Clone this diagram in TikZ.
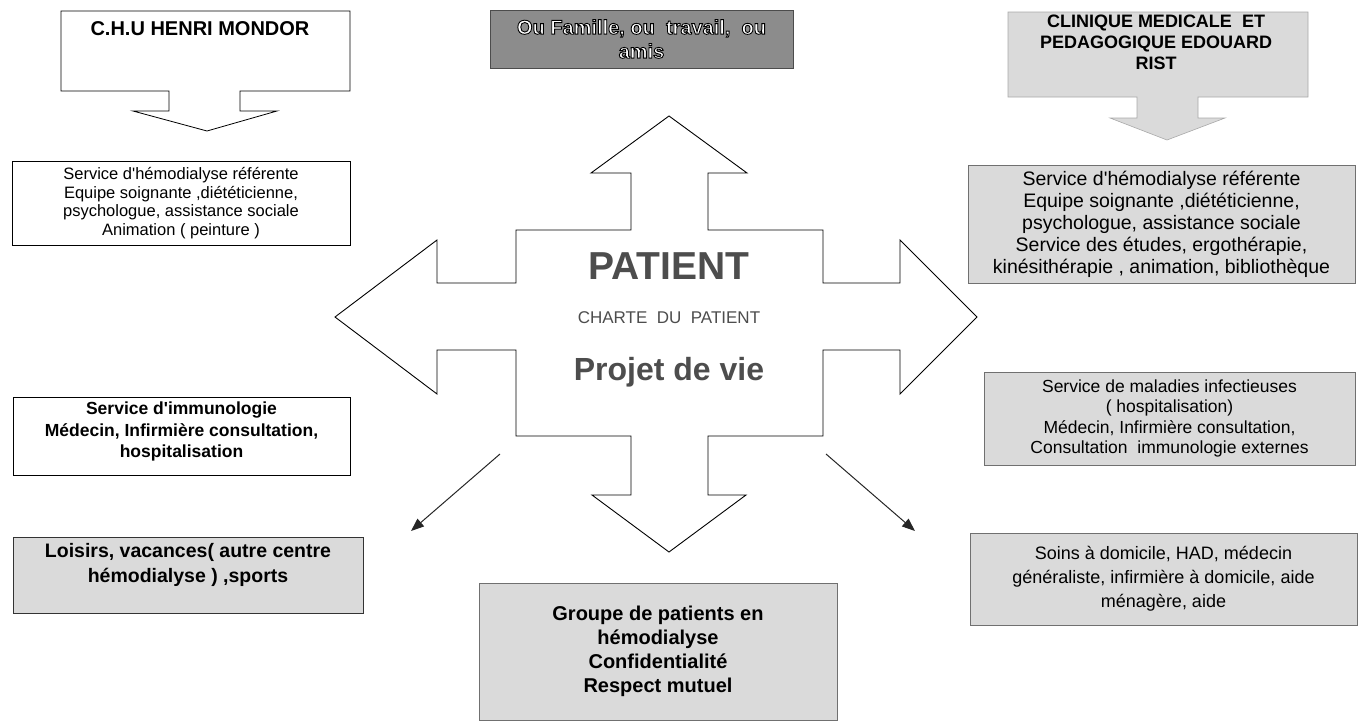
\documentclass[tikz,border=0pt]{standalone}
\usepackage{fontspec}
\setmainfont{Liberation Sans}
\usetikzlibrary{arrows.meta}
\definecolor{boxgray}{HTML}{DADADA}
\definecolor{darkbox}{HTML}{8C8C8C}
\definecolor{edgegray}{HTML}{707070}
\definecolor{centertext}{HTML}{4D4D4D}
\newcommand{\fsz}[2]{\fontsize{#1}{#2}\selectfont}
\newcommand{\outlined}[1]{{\color{white}\special{pdf:code 2 Tr 0.9 w 0 0 0 RG}#1\special{pdf:code 0 Tr}}}
\newcommand{\apo}{\textquotesingle}
\begin{document}
\begin{tikzpicture}[x=1pt,y=-1pt,
  wbox/.style={draw=black, line width=0.8pt, fill=white, align=center, inner sep=0pt},
  gbox/.style={draw=edgegray, line width=0.7pt, fill=boxgray, align=center, inner sep=0pt},
  callw/.style={draw=black, line width=0.8pt, fill=white},
  callg/.style={draw=edgegray!60, line width=0.6pt, fill=boxgray},
  crossshape/.style={draw=black, line width=0.9pt, fill=white},
  diag/.style={draw=black!85, line width=1pt, -{Triangle[length=13pt,width=10pt]}},
  ctext/.style={text=centertext, inner sep=0pt}]
\useasboundingbox (0,0) rectangle (1370,723);

% left callout
\draw[callw] (61,11) -- (350,11) -- (350,91) -- (240,91) -- (240,111) -- (277,111) -- (207,131) -- (133,111) -- (169,111) -- (169,91) -- (61,91) -- cycle;
\node[font={\fsz{20}{24}\bfseries}] (mondor) at (200,29) {C.H.U HENRI MONDOR};

% right callout
\draw[callg] (1008,12) -- (1308,12) -- (1308,97) -- (1198,97) -- (1198,118) -- (1225,118) -- (1167,140) -- (1110,118) -- (1137,118) -- (1137,97) -- (1008,97) -- cycle;
\node[align=center, inner sep=0pt, font={\fsz{18}{21}\bfseries}] (clinique) at (1156,42) {CLINIQUE MEDICALE~ ET\\PEDAGOGIQUE EDOUARD\\RIST};

% top dark box
\node[draw=black!70, line width=0.8pt, fill=darkbox, minimum width=303, minimum height=58, align=center, inner sep=0pt, font={\fsz{20}{24}\bfseries}] (famille) at (641.5,39)
  {\outlined{Ou Famille, ou~ travail,~ ou}\\\outlined{amis}};

% central cross
\draw[crossshape] (631,230) -- (631,173) -- (591,173) -- (669,116) -- (747,173) -- (708,173) -- (708,230)
  -- (823,230) -- (823,283) -- (900,283) -- (900,240) -- (977,317) -- (900,394) -- (900,350) -- (823,350)
  -- (823,436) -- (708,436) -- (708,495) -- (746,495) -- (669,552) -- (592,495) -- (631,495) -- (631,436)
  -- (516,436) -- (516,350) -- (437,350) -- (437,394) -- (335,317) -- (437,240) -- (437,283) -- (516,283) -- (516,230) -- cycle;
\node[ctext, font={\fsz{39}{40}\bfseries}] (patient) at (669,266) {PATIENT};
\node[ctext, font={\fsz{17}{20}}] (charte) at (669,318) {CHARTE~ DU~ PATIENT};
\node[ctext, font={\fsz{32}{36}\bfseries}] (projet) at (669,372) {Projet de vie};

% left boxes
\node[wbox, minimum width=338, minimum height=84, font={\fsz{16.5}{18.5}}] (hemoL) at (181,203)
  {Service d\apo hémodialyse référente\\Equipe soignante ,diététicienne,\\psychologue, assistance sociale\\Animation ( peinture )};
\node[wbox, minimum width=337, minimum height=78, text depth=12pt, font={\fsz{17.5}{21.5}\bfseries}] (immuno) at (181.5,436)
  {Service d\apo immunologie\\Médecin, Infirmière consultation,\\hospitalisation};
\node[gbox, draw=black!80, minimum width=350, minimum height=76, text depth=24pt, font={\fsz{19.5}{24.5}\bfseries}] (loisirs) at (188,575)
  {Loisirs, vacances( autre centre\\hémodialyse ) ,sports};

% right boxes
\node[gbox, minimum width=387, minimum height=118, font={\fsz{19.5}{22}}] (hemoR) at (1161.5,224)
  {Service d\apo hémodialyse référente\\Equipe soignante ,diététicienne,\\psychologue, assistance sociale\\Service des études, ergothérapie,\\kinésithérapie , animation, bibliothèque};
\node[gbox, minimum width=371, minimum height=93, font={\fsz{17.5}{20.5}}] (malad) at (1169.5,418.5)
  {Service de maladies infectieuses\\( hospitalisation)\\Médecin, Infirmière consultation,\\Consultation~ immunologie externes};
\node[gbox, minimum width=387, minimum height=92, font={\fsz{18}{24}}] (soins) at (1163.5,579)
  {Soins à domicile, HAD, médecin\\généraliste, infirmière à domicile, aide\\ménagère, aide};

% bottom box
\node[gbox, minimum width=358, minimum height=137, font={\fsz{20}{24}\bfseries}] (groupe) at (658,651.5)
  {Groupe de patients en\\hémodialyse\\Confidentialité\\Respect mutuel};

% diagonal arrows
\coordinate (dlA) at (500,454);
\coordinate (dlB) at (411,531);
\coordinate (drA) at (826,454);
\coordinate (drB) at (915,531);
\draw[diag] (dlA) -- (dlB);
\draw[diag] (drA) -- (drB);
\end{tikzpicture}
\end{document}
